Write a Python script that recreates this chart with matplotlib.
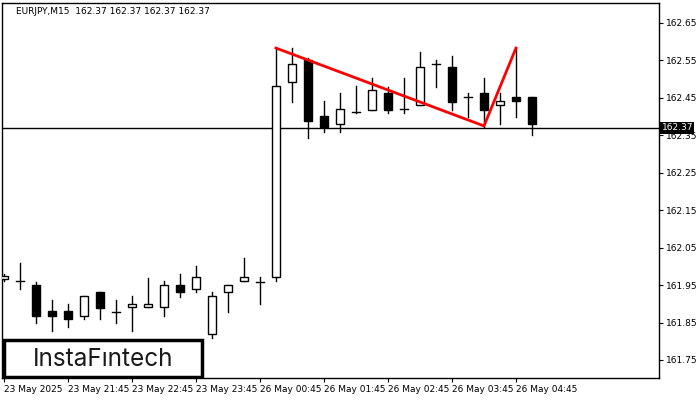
import matplotlib
matplotlib.use("Agg")
import matplotlib.pyplot as plt
from matplotlib.patches import Rectangle

opens  = [161.965,161.96,161.95,161.881,161.881,161.867,161.932,161.878,161.891,161.891,161.891,161.95,161.939,161.82,161.932,161.961,161.958,161.972,162.492,162.551,162.401,162.38,162.412,162.418,162.463,162.42,162.431,162.54,162.533,162.452,162.463,162.431,162.452,162.452]
closes = [161.975,161.96,161.867,161.867,161.859,161.921,161.889,161.878,161.899,161.899,161.95,161.932,161.972,161.921,161.95,161.972,161.958,162.482,162.54,162.388,162.372,162.42,162.412,162.471,162.418,162.42,162.533,162.54,162.439,162.452,162.418,162.442,162.442,162.38]
highs  = [161.98,162.01,161.958,161.91,161.90,161.921,161.932,161.91,161.921,161.97,161.961,161.98,162.0,161.932,161.95,162.022,161.972,162.583,162.583,162.556,162.442,162.463,162.482,162.503,162.48,162.503,162.573,162.551,162.562,162.463,162.503,162.463,162.583,162.452]
lows   = [161.96,161.94,161.849,161.827,161.838,161.859,161.859,161.849,161.827,161.891,161.867,161.918,161.932,161.809,161.878,161.961,161.90,161.96,162.439,162.343,162.359,162.359,162.41,162.418,162.41,162.41,162.431,162.479,162.418,162.399,162.372,162.38,162.399,162.35]
xlabels = ["23 May 2025","23 May 21:45","23 May 22:45","23 May 23:45","26 May 00:45","26 May 01:45","26 May 02:45","26 May 03:45","26 May 04:45"]
yticks = [162.65,162.55,162.45,162.35,162.25,162.15,162.05,161.95,161.85,161.75]
pattern_x = [17,30,32]
pattern_y = [162.583,162.375,162.583]
current = 162.37

fig = plt.figure(figsize=(7,4), dpi=100)
ax = fig.add_axes([2/700, 22/400, 657/700, 375/400])
w = 0.55
for i,(o,c,h,l) in enumerate(zip(opens,closes,highs,lows)):
    ax.plot([i,i],[l,h],color='black',lw=1,zorder=2)
    if abs(c-o) < 0.004:
        ax.plot([i-w/2,i+w/2],[o,o],color='black',lw=1,zorder=3)
    else:
        ax.add_patch(Rectangle((i-w/2,min(o,c)),w,abs(c-o),facecolor='black' if c<o else 'white',edgecolor='black',lw=1,zorder=3))
ax.axhline(current,color='black',lw=1,zorder=1)
ax.plot(pattern_x,pattern_y,color='#ff0000',lw=2,zorder=4)
ax.set_xlim(-0.125,40.94)
ax.set_ylim(161.7018,162.7034)
ax.yaxis.tick_right()
ax.set_yticks(yticks)
ax.set_yticklabels([f"{v:.2f}" for v in yticks],fontsize=6.5)
ax.set_xticks([4*k for k in range(len(xlabels))])
ax.set_xticklabels(xlabels,fontsize=6.5,ha='left')
ax.tick_params(length=3,width=0.8,pad=2)
for s in ax.spines.values(): s.set_linewidth(1)
ax.text(0.022,0.99,"EURJPY,M15  162.37 162.37 162.37 162.37",transform=ax.transAxes,fontsize=6.5,va='top',ha='left')
ax.text(1.004,current,"162.37",transform=ax.get_yaxis_transform(),fontsize=6.5,va='center',ha='left',color='white',bbox=dict(facecolor='black',edgecolor='none',pad=1),zorder=10,clip_on=False)
ax.add_patch(Rectangle((2/657,0.003),198/657,37/375,transform=ax.transAxes,facecolor='white',edgecolor='black',lw=2.5,zorder=9))
ax.text(101/657,19/375,"InstaFıntech",transform=ax.transAxes,fontsize=17.5,family='Inter',va='center',ha='center',zorder=10,color='#1a1a1a')
fig.savefig("out.png",dpi=100)
